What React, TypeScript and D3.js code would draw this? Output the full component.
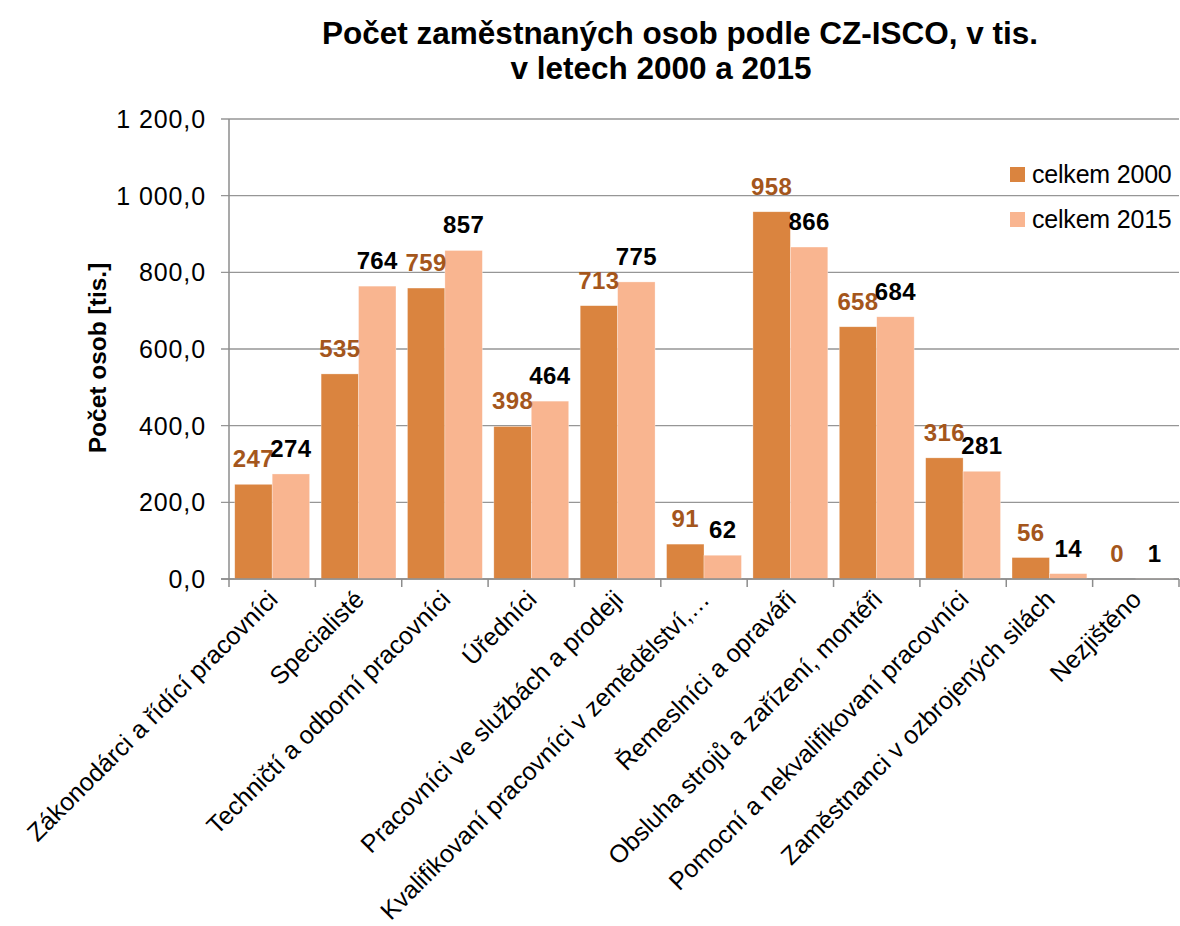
import React from "react";
import * as d3 from "d3";

const categories = [
  "Zákonodárci a řídící pracovníci",
  "Specialisté",
  "Techničtí a odborní pracovníci",
  "Úředníci",
  "Pracovníci ve službách a prodeji",
  "Kvalifikovaní pracovníci v zemědělství,…",
  "Řemeslníci a opraváři",
  "Obsluha strojů a zařízení, montéři",
  "Pomocní a nekvalifikovaní pracovníci",
  "Zaměstnanci v ozbrojených silách",
  "Nezjištěno",
];
const series = ["celkem 2000", "celkem 2015"];
const values2000 = [247, 535, 759, 398, 713, 91, 958, 658, 316, 56, 0];
const values2015 = [274, 764, 857, 464, 775, 62, 866, 684, 281, 14, 1];
const yTicks = [0, 200, 400, 600, 800, 1000, 1200];

const W = 1180;
const H = 926;
const FONT = "'Liberation Sans', Arial, sans-serif";
const barColors = ["#DA843F", "#F9B590"];
const labelColors = ["#A4561C", "#000000"];

export default function App() {
  const left = 229;
  const right = 1179;
  const top = 119;
  const bottom = 579;

  const x = d3.scaleBand<string>().domain(categories).range([left, right]).padding(0);
  const step = x.bandwidth();
  const gap = 11.5;
  const xs = d3.scaleBand<string>().domain(series).range([gap / 2, step - gap / 2]).padding(0);
  const y = d3.scaleLinear().domain([0, 1200]).range([bottom, top]);

  const locale = d3.formatLocale({ decimal: ",", thousands: " ", grouping: [3], currency: ["", ""] });
  const fmt = locale.format(",.1f");

  const data = [values2000, values2015];

  return (
    <div style={{ position: "absolute", left: 0, top: 0 }}>
      <svg width={W} height={H} style={{ display: "block", background: "#fff" }} fontFamily={FONT}>
        <rect x={0} y={0} width={W} height={H} fill="#fff" />
        {/* Title */}
        <text x={680} y={44} textAnchor="middle" fontSize={31.5} fontWeight="bold" fill="#000">
          Počet zaměstnaných osob podle CZ-ISCO, v tis.
        </text>
        <text x={661} y={79} textAnchor="middle" fontSize={31.5} fontWeight="bold" fill="#000">
          v letech 2000 a 2015
        </text>

        {/* Gridlines and y ticks */}
        {yTicks.map((t) => (
          <g key={t}>
            <line x1={left - 8} x2={right} y1={y(t)} y2={y(t)} stroke="#969696" strokeWidth={1.3} />
            <text x={left - 23} y={y(t) + 9} textAnchor="end" fontSize={25} fill="#000" letterSpacing={0.9}>
              {fmt(t)}
            </text>
          </g>
        ))}

        {/* Y axis title */}
        <text
          transform={`translate(106, 358) rotate(-90)`}
          textAnchor="middle"
          fontSize={24.5}
          fontWeight="bold"
          fill="#000"
        >
          Počet osob [tis.]
        </text>

        {/* Bars */}
        {categories.map((c, i) => (
          <g key={c}>
            {series.map((s, j) => {
              const v = data[j][i];
              const bx = (x(c) as number) + (xs(s) as number);
              return (
                <rect
                  key={s}
                  x={bx}
                  y={y(v)}
                  width={xs.bandwidth()}
                  height={bottom - y(v)}
                  fill={barColors[j]}
                  stroke="#fff"
                  strokeOpacity={0.5}
                  strokeWidth={0.6}
                />
              );
            })}
          </g>
        ))}

        {/* Axes lines */}
        <line x1={left} x2={left} y1={top} y2={bottom} stroke="#8c8c8c" strokeWidth={1.5} />
        <line x1={left - 8} x2={right} y1={bottom} y2={bottom} stroke="#8c8c8c" strokeWidth={1.5} />
        {d3.range(categories.length + 1).map((k) => {
          const tx = left + k * step;
          return <line key={k} x1={tx} x2={tx} y1={bottom} y2={bottom + 8} stroke="#8c8c8c" strokeWidth={1.5} />;
        })}

        {/* Data labels */}
        {categories.map((c, i) => (
          <g key={"l" + c}>
            {series.map((s, j) => {
              const v = data[j][i];
              const cx = (x(c) as number) + (xs(s) as number) + xs.bandwidth() / 2;
              return (
                <text
                  key={s}
                  x={cx}
                  y={y(v) - 17}
                  textAnchor="middle"
                  fontSize={24}
                  fontWeight="bold"
                  fill={labelColors[j]}
                  letterSpacing={0.4}
                >
                  {v}
                </text>
              );
            })}
          </g>
        ))}

        {/* Category labels */}
        {categories.map((c) => {
          const cx = (x(c) as number) + step / 2;
          return (
            <text
              key={"c" + c}
              transform={`translate(${cx + 7}, ${bottom + 22}) rotate(-45)`}
              textAnchor="end"
              fontSize={25}
              fill="#000"
            >
              {c}
            </text>
          );
        })}

        {/* Legend */}
        {series.map((s, j) => (
          <g key={"lg" + s} transform={`translate(1010, ${167 + j * 45})`}>
            <rect x={0} y={0} width={15} height={15} fill={barColors[j]} />
            <text x={22} y={16} fontSize={25} fill="#000" letterSpacing={-0.2}>
              {s}
            </text>
          </g>
        ))}
      </svg>
    </div>
  );
}
